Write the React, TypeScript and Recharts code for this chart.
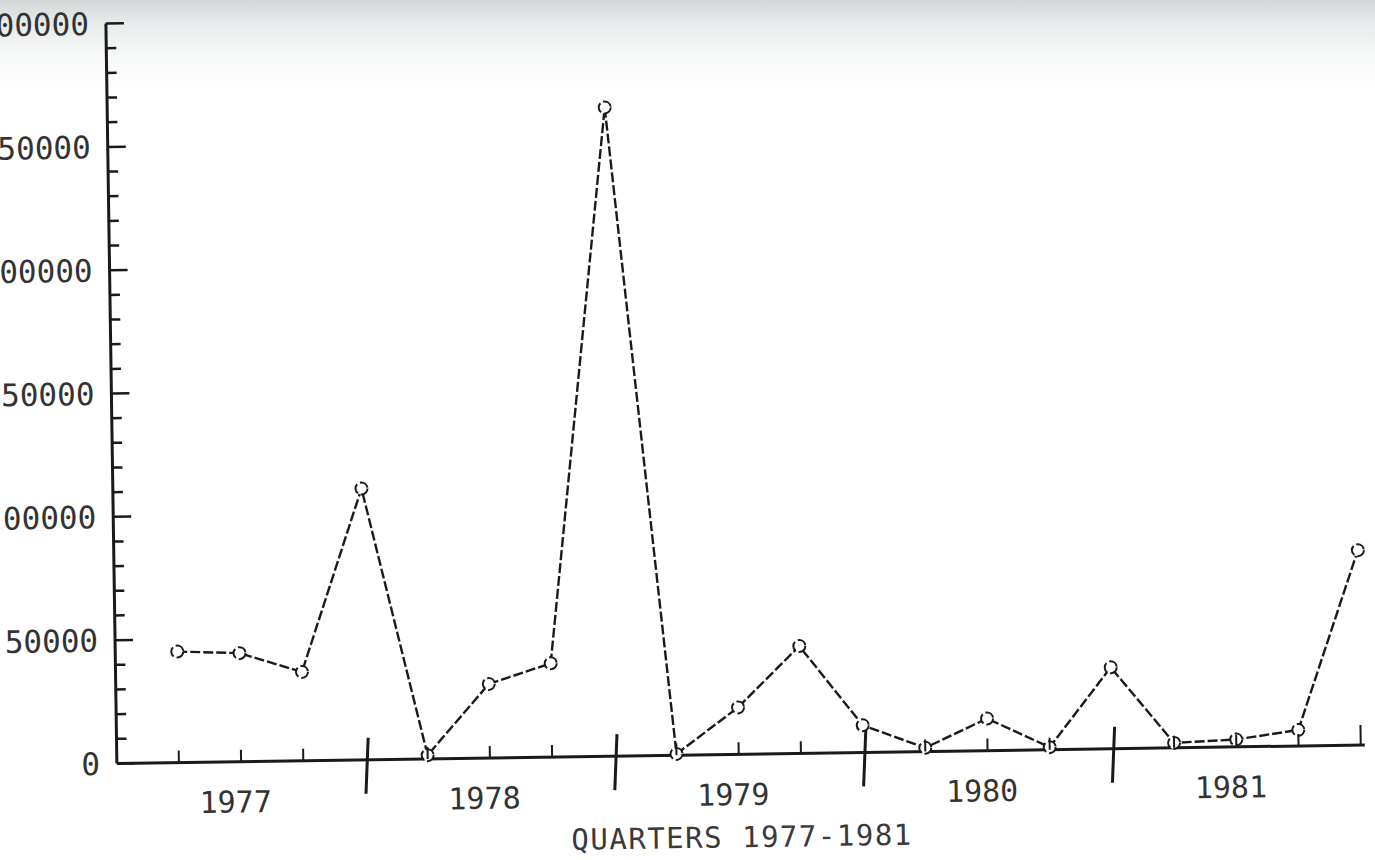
import { LineChart, Line, XAxis, YAxis, Label } from 'recharts'

// quarterly totals, 1977-1981
const years = ['1977', '1978', '1979', '1980', '1981']
const quarters = years.flatMap((y) => ['Q1', 'Q2', 'Q3', 'Q4'].map((q) => `${y} ${q}`))
const values = [
  45000, 44000, 36000, 110000,
  1500, 30000, 38000, 263000,
  500, 19000, 43500, 11000,
  1500, 13000, 1000, 33000,
  2000, 3000, 6500, 79000,
]
const yTicks = Array.from({ length: 31 }, (_, i) => i * 10000)

const data = quarters.map((quarter, i) => ({ quarter, value: values[i] }))

const FONT = 'DejaVu Sans Mono, monospace'
const INK = '#1a1a1a'

function YTick(props: any) {
  const { x, y, payload } = props
  const major = payload.value % 50000 === 0
  return (
    <g>
      <line x1={x} x2={x + (major ? 18 : 10)} y1={y} y2={y} stroke={INK} strokeWidth={2.5} />
      {major && (
        <text x={x - 17} y={y} dy="0.36em" textAnchor="end" fontFamily={FONT} fontSize={31} fill="#333">
          {payload.value}
        </text>
      )}
    </g>
  )
}

function XTick(props: any) {
  const { x, y, index } = props
  const q = index % 4
  const last = index === quarters.length - 1
  const yearEnd = q === 3 && !last
  return (
    <g>
      {yearEnd ? (
        <line x1={x + 3} x2={x} y1={y - 22} y2={y + 34} stroke={INK} strokeWidth={3} />
      ) : (
        <line x1={x} x2={x} y1={y} y2={y - (last ? 20 : 12)} stroke={INK} strokeWidth={2} />
      )}
      {q === 1 && (
        <text x={x - 6} y={y + 40} dy="0.36em" textAnchor="middle" fontFamily={FONT} fontSize={30} fill="#333">
          {years[Math.floor(index / 4)]}
        </text>
      )}
    </g>
  )
}

export default function App() {
  return (
    <div
      style={{
        position: 'absolute',
        left: 0,
        top: 0,
        width: 1375,
        height: 860,
        overflow: 'hidden',
        background: 'linear-gradient(to bottom, #d3d7d8 0px, #e9ecec 25px, #f7f8f8 55px, #ffffff 95px)',
      }}
    >
      <div style={{ width: 1375, height: 860, transform: 'rotate(-0.85deg)', transformOrigin: '50% 50%' }}>
        <LineChart width={1375} height={860} data={data} margin={{ top: 15, right: 15, bottom: 12, left: 0 }}>
          <XAxis
            dataKey="quarter"
            interval={0}
            height={93}
            padding={{ left: 62, right: 4 }}
            tickSize={0}
            tickMargin={0}
            tickLine={false}
            axisLine={{ stroke: INK, strokeWidth: 3 }}
            tick={(p: any) => <XTick {...p} />}
          >
            <Label
              value="QUARTERS 1977-1981"
              position="insideBottom"
              offset={0}
              style={{ fontFamily: FONT, fontSize: 29, letterSpacing: 1.5, fill: '#3a3a3a' }}
            />
          </XAxis>
          <YAxis
            width={112}
            domain={[0, 300000]}
            ticks={yTicks}
            interval={0}
            tickSize={0}
            tickMargin={0}
            tickLine={false}
            axisLine={{ stroke: INK, strokeWidth: 3 }}
            tick={(p: any) => <YTick {...p} />}
          />
          <Line
            type="linear"
            dataKey="value"
            stroke={INK}
            strokeWidth={2.4}
            strokeDasharray="10 3"
            dot={{ r: 6, stroke: INK, strokeWidth: 2, fill: '#fff' }}
            isAnimationActive={false}
          />
        </LineChart>
      </div>
    </div>
  )
}
